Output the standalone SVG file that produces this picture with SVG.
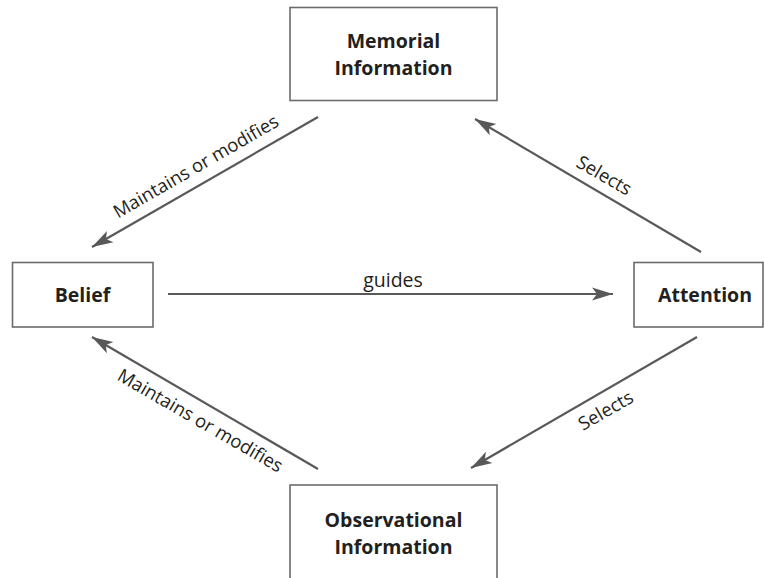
<svg xmlns="http://www.w3.org/2000/svg" width="764" height="578" viewBox="0 0 764 578">
  <style>
    .box { fill: #ffffff; stroke: #6b6b6b; stroke-width: 1.6; }
    .title { font-family: "Open Sans", "Liberation Sans", sans-serif; font-weight: 700; font-size: 19.5px; fill: #231f20; text-anchor: middle; }
    .edge { stroke: #595959; stroke-width: 2.2; fill: none; marker-end: url(#head); }
    .lbl { font-family: "Open Sans", "Liberation Sans", sans-serif; font-size: 18.5px; fill: #231f20; text-anchor: middle; }
  </style>
  <defs>
    <!-- notched arrowhead shared by every connector -->
    <marker id="head" markerUnits="userSpaceOnUse" markerWidth="24" markerHeight="16" viewBox="-22 -8 24 16" refX="0" refY="0" orient="auto">
      <path d="M0,0 L-21,-6.5 L-16,0 L-21,6.5 Z" fill="#595959"/>
    </marker>
  </defs>
  <rect width="764" height="578" fill="#ffffff"/>

  <g id="connectors">
    <line class="edge" x1="318" y1="117" x2="92" y2="247"/>
    <line class="edge" x1="701" y1="252" x2="475" y2="119"/>
    <line class="edge" x1="168" y1="294" x2="613" y2="294"/>
    <line class="edge" x1="318" y1="469" x2="92" y2="337"/>
    <line class="edge" x1="697" y1="337" x2="471" y2="468"/>
    <text class="lbl" x="393" y="286.5" style="font-size:19.5px">guides</text>
    <text class="lbl" transform="translate(199,172) rotate(-30)">Maintains or modifies</text>
    <text class="lbl" transform="translate(601,181) rotate(30)">Selects</text>
    <text class="lbl" transform="translate(197,426) rotate(30)">Maintains or modifies</text>
    <text class="lbl" transform="translate(609,416) rotate(-30)">Selects</text>
  </g>

  <g id="memorial">
    <rect class="box" x="290" y="7.5" width="207" height="93"/>
    <text class="title" x="393.5" y="47.5">Memorial</text>
    <text class="title" x="393.5" y="75">Information</text>
  </g>
  <g id="belief">
    <rect class="box" x="12.5" y="262.5" width="140.5" height="64.5"/>
    <text class="title" x="82.5" y="302">Belief</text>
  </g>
  <g id="attention">
    <rect class="box" x="634" y="262.5" width="129" height="64.5"/>
    <text class="title" x="705" y="302">Attention</text>
  </g>
  <g id="observational">
    <rect class="box" x="290" y="485" width="207" height="100"/>
    <text class="title" x="393.5" y="526.5">Observational</text>
    <text class="title" x="393.5" y="554">Information</text>
  </g>
</svg>
